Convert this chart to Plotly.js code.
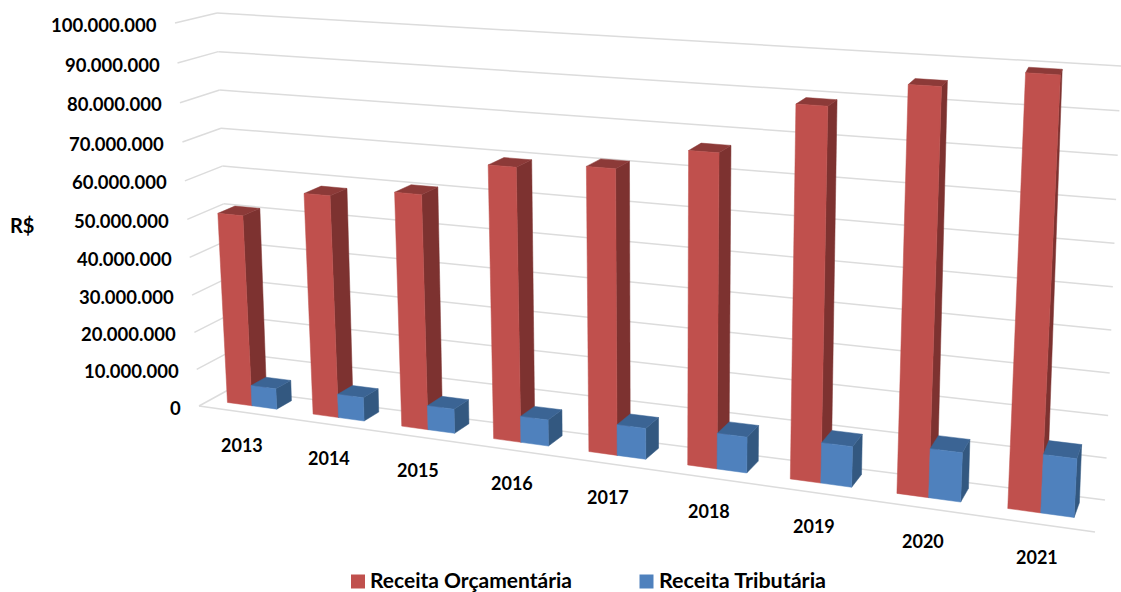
<!DOCTYPE html>
<html><head><meta charset="utf-8">
<script src="https://cdn.plot.ly/plotly-3.0.1.min.js"></script>
<style>html,body{margin:0;padding:0;background:#fff}#c{width:1121px;height:592px}</style></head>
<body><div id="c"></div>
<script>
const categories = ['2013','2014','2015','2016','2017','2018','2019','2020','2021'];
const receitaOrcamentaria = [50600000,57900000,60300000,69100000,70700000,76400000,88900000,94900000,99000000];
const receitaTributaria = [5500000,6200000,6300000,6700000,7800000,8900000,9900000,11800000,13800000];
const tickValues = [0,10000000,20000000,30000000,40000000,50000000,60000000,70000000,80000000,90000000,100000000];
const tickLabels = ['0','10.000.000','20.000.000','30.000.000','40.000.000','50.000.000','60.000.000','70.000.000','80.000.000','90.000.000','100.000.000'];
const seriesNames = ['Receita Orçamentária','Receita Tributária'];

const FONT = 'Lato, Carlito, sans-serif';
const VMAX = 100000000;
// homography from unit square to a quad (p00,p10,p11,p01)
function homography(p00,p10,p11,p01){
  const dx1=p10[0]-p11[0],dx2=p01[0]-p11[0],sx=p00[0]-p10[0]+p11[0]-p01[0];
  const dy1=p10[1]-p11[1],dy2=p01[1]-p11[1],sy=p00[1]-p10[1]+p11[1]-p01[1];
  const det=dx1*dy2-dx2*dy1;
  const g=(sx*dy2-dx2*sy)/det,h=(dx1*sy-sx*dy1)/det;
  const a=p10[0]-p00[0]+g*p10[0],b=p01[0]-p00[0]+h*p01[0],c=p00[0];
  const d=p10[1]-p00[1]+g*p10[1],e=p01[1]-p00[1]+h*p01[1],f=p00[1];
  return (u,v)=>{const w=g*u+h*v+1;return [(a*u+b*v+c)/w,(d*u+e*v+f)/w];};
}
// walls of the chart box: front plane and back plane (t along categories, v up)
const frontPlane = homography([199,406],[1095,532],[1122,78],[175,23]);
const backPlane  = homography([230,389],[1105,500],[1121,66],[217,13]);
function P(t,depth,val){
  const v=val/VMAX, f=frontPlane(t,v), b=backPlane(t,v);
  return [f[0]+(b[0]-f[0])*depth, f[1]+(b[1]-f[1])*depth];
}
const traces=[];
function poly(pts,color,name,group){
  const c=pts.concat([pts[0]]);
  traces.push({type:'scatter',mode:'lines',x:c.map(p=>p[0]),y:c.map(p=>p[1]),fill:'toself',fillcolor:color,
    line:{color:color,width:0.5},hoverinfo:'name',name:name,showlegend:false,legendgroup:group});
}
function seg(a,b,color,w){
  traces.push({type:'scatter',mode:'lines',x:[a[0],b[0]],y:[a[1],b[1]],line:{color:color,width:w},hoverinfo:'skip',showlegend:false});
}
tickValues.forEach(v=>{
  seg(P(0,0,v),P(0,1,v),'#dcdcdc',1.5);
  seg(P(0,1,v),P(1,1,v),'#dcdcdc',1.5);
});
seg(P(0,0,0),P(1,0,0),'#dcdcdc',1.5);

const n=categories.length, gap=0.21, D0=0.35, D1=0.82;
function box(t0,t1,val,cF,cS,cT,name){
  poly([P(t1,D0,0),P(t1,D1,0),P(t1,D1,val),P(t1,D0,val)],cS,name,name);
  poly([P(t0,D0,val),P(t1,D0,val),P(t1,D1,val),P(t0,D1,val)],cT,name,name);
  poly([P(t0,D0,0),P(t1,D0,0),P(t1,D0,val),P(t0,D0,val)],cF,name,name);
}
categories.forEach((c,i)=>{
  const a=(i+gap)/n, m=(i+0.5)/n, e=(i+1-gap)/n;
  box(a,m,receitaOrcamentaria[i],'#C0504D','#7D3230','#8C3A38',seriesNames[0]);
  box(m,e,receitaTributaria[i],'#4F81BD','#335880','#3B6494',seriesNames[1]);
});

const ann=[];
tickValues.forEach((v,i)=>{
  const p=P(0,0,v);
  ann.push({x:p[0]-16,y:p[1]+1.5,xref:'x',yref:'y',text:tickLabels[i],showarrow:false,xanchor:'right',yanchor:'middle',font:{family:FONT,size:18.5,color:'#000',weight:700}});
});
categories.forEach((c,i)=>{
  const p=P((i+0.5)/n,0,0);
  ann.push({x:p[0]+1,y:p[1]+33.5,xref:'x',yref:'y',text:c,showarrow:false,xanchor:'center',yanchor:'middle',font:{family:FONT,size:18,color:'#000',weight:700}});
});
ann.push({x:8,y:225,xref:'x',yref:'y',text:'R$',showarrow:false,xanchor:'left',yanchor:'middle',font:{family:FONT,size:20,color:'#000',weight:700}});
traces.push({type:'scatter',mode:'text',x:[370,659],y:[582.5,582.5],text:seriesNames,textposition:'middle right',cliponaxis:false,
  textfont:{family:FONT,size:[21,21.5],color:'#000',weight:700},hoverinfo:'skip',showlegend:false});
traces.push({type:'scatter',mode:'markers',x:[358,646.5],y:[581.5,581.5],marker:{symbol:'square',size:14,color:['#C0504D','#4F81BD'],line:{width:0}},hoverinfo:'skip',showlegend:false});

Plotly.newPlot('c',traces,{
  width:1121,height:592,margin:{l:0,r:0,t:0,b:0},paper_bgcolor:'#fff',plot_bgcolor:'#fff',showlegend:false,
  xaxis:{range:[0,1121],visible:false,fixedrange:true},
  yaxis:{range:[592,0],visible:false,fixedrange:true},
  annotations:ann
},{displayModeBar:false,staticPlot:true});
</script></body></html>
